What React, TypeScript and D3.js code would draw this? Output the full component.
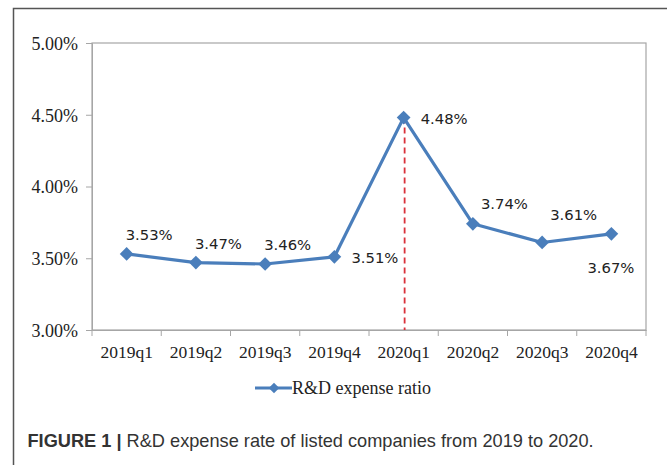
import React, { useEffect, useRef } from "react";
import * as d3 from "d3";

const categories = ["2019q1", "2019q2", "2019q3", "2019q4", "2020q1", "2020q2", "2020q3", "2020q4"];
const values = [3.53, 3.47, 3.46, 3.51, 4.48, 3.74, 3.61, 3.67];
const yTicks = [3.0, 3.5, 4.0, 4.5, 5.0];
// label placement kinds
const labelPos = ["above", "above", "above", "right", "right", "aboveRight", "aboveRightHigh", "below"];
const seriesName = "R&D expense ratio";
const highlightIndex = 4;

const W = 667, H = 465;
const M = { left: 92, right: 646, top: 43, bottom: 330 };
const BLUE = "#4a7ebb";
const SERIF = "'Liberation Serif', 'Times New Roman', serif";

const labelOffset: Record<string, [number, number]> = {
  above: [-1, -14],
  right: [17, 6.5],
  aboveRight: [8, -15],
  aboveRightHigh: [8, -22],
  below: [-24, 39],
};

export default function App() {
  const ref = useRef<SVGSVGElement>(null);
  useEffect(() => {
    const svg = d3.select(ref.current);
    svg.selectAll("*").remove();

    const x = d3.scaleBand().domain(categories).range([M.left, M.right]);
    const y = d3.scaleLinear().domain([3, 5]).range([M.bottom, M.top]);
    const cx = (c: string) => (x(c) as number) + x.bandwidth() / 2;

    svg.append("rect").attr("width", W).attr("height", H).attr("fill", "#fff");
    // outer frame
    svg.append("path")
      .attr("d", `M13.5,${H + 2} L13.5,8.5 L${W + 2},8.5`)
      .attr("fill", "none").attr("stroke", "#555").attr("stroke-width", 1.5);

    // plot border
    svg.append("rect")
      .attr("x", M.left).attr("y", M.top)
      .attr("width", M.right - M.left).attr("height", M.bottom - M.top)
      .attr("fill", "none").attr("stroke", "#a6a6a6").attr("stroke-width", 1.2);

    // y axis
    const yAxis = svg.append("g").attr("transform", `translate(${M.left},0)`)
      .call(d3.axisLeft(y).tickValues(yTicks).tickSize(6).tickFormat((d: any) => d3.format(".2f")(d) + "%"));
    yAxis.select(".domain").attr("stroke", "#a6a6a6");
    yAxis.selectAll(".tick line").attr("stroke", "#a6a6a6");
    yAxis.selectAll("text")
      .attr("font-family", SERIF)
      .attr("font-size", 18).attr("fill", "#222").attr("x", -14).attr("dy", "0.35em");

    // x axis
    const xAxis = svg.append("g").attr("transform", `translate(0,${M.bottom})`)
      .call(d3.axisBottom(x).tickSize(0));
    xAxis.select(".domain").attr("stroke", "#a6a6a6");
    xAxis.selectAll("text")
      .attr("font-family", SERIF)
      .attr("font-size", 17.5).attr("fill", "#222").attr("y", 15.6).attr("dy", "0.71em");
    // boundary ticks
    const bounds = categories.map((c) => x(c) as number).concat([M.right]);
    svg.append("g").selectAll("line").data(bounds).join("line")
      .attr("x1", (d) => d).attr("x2", (d) => d)
      .attr("y1", M.bottom).attr("y2", M.bottom + 6)
      .attr("stroke", "#a6a6a6");

    // dashed red line
    const hc = categories[highlightIndex];
    svg.append("line")
      .attr("x1", cx(hc) + 1).attr("x2", cx(hc) + 1)
      .attr("y1", y(values[highlightIndex])).attr("y2", M.bottom)
      .attr("stroke", "#d9313a").attr("stroke-width", 1.8).attr("stroke-dasharray", "6,4");

    // line
    const line = d3.line<number>().x((_, i) => cx(categories[i])).y((d) => y(d));
    svg.append("path").datum(values).attr("d", line)
      .attr("fill", "none").attr("stroke", BLUE).attr("stroke-width", 3.2).attr("stroke-linejoin", "round");

    const diamond = d3.symbol().type(d3.symbolDiamond2).size(120);
    svg.append("g").selectAll("path").data(values).join("path")
      .attr("d", diamond as any)
      .attr("transform", (d, i) => `translate(${cx(categories[i])},${y(d)})`)
      .attr("fill", BLUE);

    // data labels
    svg.append("g").selectAll("text").data(values).join("text")
      .attr("font-family", "'DejaVu Sans', Verdana, sans-serif")
      .attr("font-size", 14.8).attr("fill", "#222")
      .attr("x", (d, i) => cx(categories[i]) + labelOffset[labelPos[i]][0])
      .attr("y", (d, i) => y(d) + labelOffset[labelPos[i]][1])
      .text((d) => d3.format(".2f")(d) + "%");

    // legend
    const lg = svg.append("g");
    lg.append("line").attr("x1", 255).attr("x2", 292).attr("y1", 388).attr("y2", 388)
      .attr("stroke", BLUE).attr("stroke-width", 3.2);
    lg.append("path").attr("d", d3.symbol().type(d3.symbolDiamond2).size(70)() as string)
      .attr("transform", "translate(274,388)").attr("fill", BLUE);
    lg.append("text").attr("x", 292).attr("y", 394)
      .attr("font-family", SERIF)
      .attr("font-size", 18).attr("fill", "#222").text(seriesName);

    // caption
    const cap = svg.append("text").attr("x", 27.5).attr("y", 447)
      .attr("font-family", "'Liberation Sans', Arial, sans-serif")
      .attr("font-size", 18.2).attr("fill", "#333");
    cap.append("tspan").attr("font-weight", "bold").text("FIGURE 1 | ");
    cap.append("tspan").text("R&D expense rate of listed companies from 2019 to 2020.");
  }, []);
  return (
    <svg ref={ref} width={W} height={H}
      style={{ position: "fixed", left: 0, top: 0, display: "block" }} />
  );
}
